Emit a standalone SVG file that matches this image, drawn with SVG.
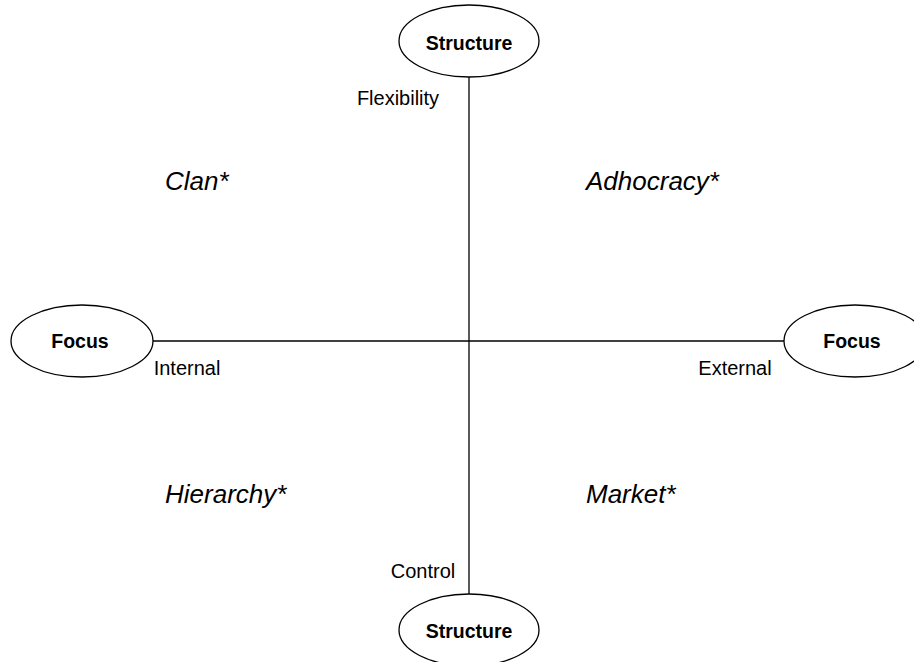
<svg xmlns="http://www.w3.org/2000/svg" width="914" height="662" viewBox="0 0 914 662">
<style>
.n{fill:#fff;stroke:#000;stroke-width:1.3}
.lbl{font-family:"Liberation Sans",Arial,sans-serif;font-size:19.5px;font-weight:bold;text-anchor:middle;fill:#000}
.ax{font-family:"Liberation Sans",Arial,sans-serif;font-size:20px;fill:#000;text-anchor:middle}
.q{font-family:"Liberation Sans",Arial,sans-serif;font-size:26px;font-style:italic;fill:#000}
.c{stroke:#000;stroke-width:1.3;fill:none}
</style>
<rect width="914" height="662" fill="#fff"/>
<g id="connectors">
<line class="c" x1="469" y1="77" x2="469" y2="594"/>
<line class="c" x1="153" y1="341" x2="784" y2="341"/>
</g>
<g id="structure-top">
<ellipse class="n" cx="469" cy="41" rx="70" ry="36"/>
<text class="lbl" x="469" y="50">Structure</text>
</g>
<g id="structure-bottom">
<ellipse class="n" cx="469" cy="630" rx="70" ry="36"/>
<text class="lbl" x="469" y="638">Structure</text>
</g>
<g id="focus-left">
<ellipse class="n" cx="82" cy="341" rx="71" ry="36"/>
<text class="lbl" x="80" y="348">Focus</text>
</g>
<g id="focus-right">
<ellipse class="n" cx="855" cy="341" rx="71" ry="36"/>
<text class="lbl" x="852" y="348">Focus</text>
</g>
<g id="labels">
<text class="ax" x="398" y="105">Flexibility</text>
<text class="ax" x="423" y="578">Control</text>
<text class="ax" x="187" y="375">Internal</text>
<text class="ax" x="735" y="375">External</text>
<text class="q" x="165" y="190">Clan*</text>
<text class="q" x="586" y="190">Adhocracy*</text>
<text class="q" x="165" y="503">Hierarchy*</text>
<text class="q" x="586" y="503">Market*</text>
</g>
</svg>
